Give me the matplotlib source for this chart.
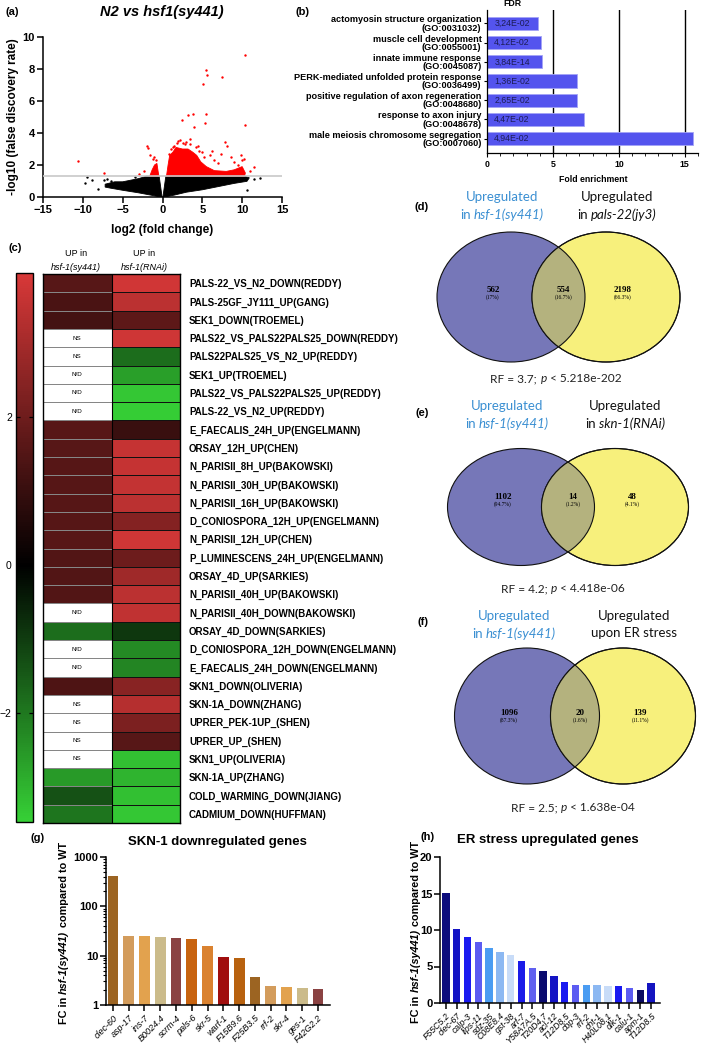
import numpy as np
import matplotlib.pyplot as plt
from matplotlib.colors import LinearSegmentedColormap, Normalize
from matplotlib.cm import ScalarMappable
from matplotlib.patches import Ellipse
from matplotlib.ticker import MultipleLocator

W, H = 709, 1045

# ---------------- data ----------------
# (a) volcano plot: outlines of the dense point clouds, and the separate points
black_left_x = [-7.2, -6.0, -5.0, -4.0, -3.0, -2.0, -0.42, -0.05, -0.5, -1.5, -3.0, -5.0, -6.5, -7.2]
black_left_y = [0.80, 0.95, 0.95, 1.05, 1.15, 1.30, 1.30, 0.0, 0.02, 0.12, 0.26, 0.42, 0.55, 0.62]
black_right_x = [0.05, 0.42, 10.3, 10.9, 10.6, 9.0, 7.0, 5.0, 3.0, 1.5, 0.5]
black_right_y = [0.0, 1.30, 1.30, 1.20, 0.98, 0.85, 0.65, 0.45, 0.30, 0.12, 0.02]
red_main_x = [0.5, 0.7, 0.9, 1.3, 1.7, 2.5, 3.2, 3.8, 4.3, 4.8, 5.5, 6.5, 8.0, 9.0, 10.0, 10.4, 10.3]
red_main_y = [1.3, 2.0, 2.6, 2.8, 3.1, 3.0, 3.0, 2.8, 2.6, 2.2, 1.9, 1.65, 1.6, 1.7, 1.9, 1.5, 1.3]
red_left_x = [-1.6, -1.3, -1.0, -0.7, -0.55, -0.45]
red_left_y = [1.3, 1.7, 2.0, 2.1, 1.6, 1.3]
red_x = [5.4, 5.55, 5.1, 7.5, 3.8, 3.2, 2.4, 5.4, 5.3, 4.0, 10.4, 10.4, 10.2, -10.6, -7.3,
         -2.0, -1.85, -1.6, -1.2, -2.3, -3.0, 1.1, 1.5, 2.0, 2.6, 3.0, 3.5, 4.5, 4.9, 5.2,
         6.0, 6.5, 7.0, 7.8, 8.1, 8.6, 9.0, 9.5, 7.3, 6.2, 4.2, 2.2, 1.8, 1.3, 0.8, -0.8,
         -1.1, 9.8, 10.0, 11.0, 11.5, 3.4, 2.8, 4.6]
red_y = [7.95, 7.6, 7.05, 7.5, 5.2, 5.1, 4.8, 5.2, 4.65, 4.4, 8.9, 4.5, 2.4, 2.25, 1.5,
         3.2, 3.05, 2.6, 2.4, 1.6, 1.45, 3.0, 3.2, 3.5, 3.4, 3.45, 3.3, 3.2, 2.8, 2.5,
         2.6, 2.3, 2.1, 3.45, 3.2, 2.5, 2.2, 2.0, 2.7, 2.9, 3.1, 3.55, 3.4, 3.1, 2.7, 2.3,
         2.5, 2.6, 2.3, 1.6, 1.9, 3.6, 3.3, 2.9]
black_x = [-9.5, -9.7, -8.8, -8.05, -7.4, -7.0, -3.5, 10.6, 12.3, 11.5, -6.5]
black_y = [1.25, 0.9, 1.04, 0.48, 1.04, 1.1, 1.25, 0.45, 1.2, 1.1, 1.0]
fdr_cut = 1.3

# (b) GO enrichment
go_terms = ['actomyosin structure organization', 'muscle cell development', 'innate immune response',
            'PERK-mediated unfolded protein response', 'positive regulation of axon regeneration',
            'response to axon injury', 'male meiosis chromosome segregation']
go_ids = ['GO:0031032', 'GO:0055001', 'GO:0045087', 'GO:0036499', 'GO:0048680', 'GO:0048678', 'GO:0007060']
fold_enrichment = [3.9, 4.08, 4.2, 6.8, 6.85, 7.33, 15.6]
go_fdr = ['3,24E-02', '4,12E-02', '3,84E-14', '1,36E-02', '2,65E-02', '4,47E-02', '4,94E-02']

# (c) heatmap
gene_sets = ['PALS-22_VS_N2_DOWN(REDDY)', 'PALS-25GF_JY111_UP(GANG)', 'SEK1_DOWN(TROEMEL)',
             'PALS22_VS_PALS22PALS25_DOWN(REDDY)', 'PALS22PALS25_VS_N2_UP(REDDY)', 'SEK1_UP(TROEMEL)',
             'PALS22_VS_PALS22PALS25_UP(REDDY)', 'PALS-22_VS_N2_UP(REDDY)', 'E_FAECALIS_24H_UP(ENGELMANN)',
             'ORSAY_12H_UP(CHEN)', 'N_PARISII_8H_UP(BAKOWSKI)', 'N_PARISII_30H_UP(BAKOWSKI)',
             'N_PARISII_16H_UP(BAKOWSKI)', 'D_CONIOSPORA_12H_UP(ENGELMANN)', 'N_PARISII_12H_UP(CHEN)',
             'P_LUMINESCENS_24H_UP(ENGELMANN)', 'ORSAY_4D_UP(SARKIES)', 'N_PARISII_40H_UP(BAKOWSKI)',
             'N_PARISII_40H_DOWN(BAKOWSKI)', 'ORSAY_4D_DOWN(SARKIES)', 'D_CONIOSPORA_12H_DOWN(ENGELMANN)',
             'E_FAECALIS_24H_DOWN(ENGELMANN)', 'SKN1_DOWN(OLIVERIA)', 'SKN-1A_DOWN(ZHANG)',
             'UPRER_PEK-1UP_(SHEN)', 'UPRER_UP_(SHEN)', 'SKN1_UP(OLIVERIA)', 'SKN-1A_UP(ZHANG)',
             'COLD_WARMING_DOWN(JIANG)', 'CADMIUM_DOWN(HUFFMAN)']
nan = np.nan
sy441_nes = [1.6, 1.35, 1.25, nan, nan, nan, nan, nan, 1.6, 1.6, 1.55, 1.55, 1.55, 1.55, 1.6,
             1.5, 1.5, 1.5, nan, -1.8, nan, nan, 1.4, nan, nan, nan, nan, -2.55, -1.35, -1.95]
sy441_note = ['', '', '', 'NS', 'NS', 'N/D', 'N/D', 'N/D', '', '', '', '', '', '', '',
              '', '', '', 'N/D', '', 'N/D', 'N/D', '', 'NS', 'NS', 'NS', 'NS', '', '', '']
rnai_nes = [3.8, 3.4, 1.7, 3.75, -1.8, -2.65, -3.3, -3.4, 1.05, 3.6, 3.6, 3.55, 3.4, 2.4, 3.75,
            2.0, 2.9, 3.4, 3.5, -0.9, -2.3, -2.2, 2.5, 3.3, 2.25, 1.6, -3.2, -3.0, -3.2, -3.3]

# (d)-(f) Venn diagrams
venn_left = ['hsf-1(sy441)', 'hsf-1(sy441)', 'hsf-1(sy441)']
venn_right = [('in ', 'pals-22(jy3)'), ('in ', 'skn-1(RNAi)'), ('upon ER stress', '')]
venn_counts = [(562, 554, 2198), (1102, 14, 48), (1096, 20, 139)]
venn_pcts = [('17%', '16.7%', '66.3%'), ('94.7%', '1.2%', '4.1%'), ('87.3%', '1.6%', '11.1%')]
venn_rf = ['3.7', '4.2', '2.5']
venn_p = ['5.218e-202', '4.418e-06', '1.638e-04']

# (g) SKN-1 downregulated genes
skn_genes = ['clec-60', 'asp-17', 'ins-7', 'B0024.4', 'scrm-4', 'pals-6', 'skr-5', 'warf-1',
             'F15B9.6', 'F25B3.5', 'rrf-2', 'skr-4', 'ges-1', 'F42G2.2']
skn_fc = [420, 25.4, 24.7, 23.5, 23.2, 21.8, 15.7, 9.4, 9.0, 3.75, 2.43, 2.28, 2.21, 2.14]
skn_colors = ['#9c6422', '#d39c5c', '#e2a24e', '#cbbb8a', '#8a4242', '#c8630f', '#da8230', '#a00e0e',
              '#b8620f', '#9c6422', '#d39c5c', '#e2a24e', '#cbbb8a', '#8a4242']

# (h) ER stress upregulated genes
er_genes = ['F55C5.2', 'clec-67', 'calp-3', 'lips-11', 'sdz-35', 'C08E8.4', 'gst-38', 'arf-7',
            'Y58A7A.5', 'T20D4.7', 'acl-12', 'T12D8.5', 'cbp-3', 'rrf-2', 'cht-1', 'H40L08.1',
            'dlk-1', 'calu-1', 'apm-1', 'T12D8.5']
er_fc = [15.1, 10.1, 9.1, 8.3, 7.6, 7.0, 6.6, 5.7, 4.8, 4.4, 3.7, 2.9, 2.5, 2.5, 2.4, 2.35,
         2.3, 2.0, 1.8, 2.8]
er_colors = ['#0c0c7c', '#1414c4', '#1a1af0', '#5c5cf2', '#4a9cf2', '#8cb8f2', '#c8dcf8', '#1a1ae8',
             '#6060f0', '#0a0a6e', '#1414c4', '#1a1af0', '#5c5cf2', '#4a9cf2', '#8cb8f2', '#c8dcf8',
             '#1a1af0', '#5c5cf2', '#0a0a60', '#1414c0']

# ---------------- figure ----------------
plt.rcParams['font.family'] = ['Liberation Sans', 'DejaVu Sans']
plt.rcParams['font.weight'] = 'bold'
plt.rcParams['axes.linewidth'] = 1.1

fig = plt.figure(figsize=(W / 100, H / 100), dpi=100)


def px_axes(left, top, right, bottom):
    return fig.add_axes([left / W, 1 - bottom / H, (right - left) / W, (bottom - top) / H])


def label(x, y, s, **kw):
    kw.setdefault('ha', 'center')
    kw.setdefault('va', 'center')
    return fig.text(x / W, 1 - y / H, s, **kw)


def rich(x, y, parts, size, rotation=0, **kw):
    # parts: (text, style); a leading space becomes a gap
    r = fig.canvas.get_renderer()
    gap = 0.27 * size * 100 / 72
    base = 0.36 * size * 100 / 72
    items = []
    for s, st in parts:
        lead = gap if s.startswith(' ') else 0
        t = fig.text(0, 0, s.strip(), rotation=rotation, rotation_mode='anchor', ha='left',
                     va='baseline', style=st, fontsize=size, **kw)
        bb = t.get_window_extent(r)
        items.append((t, lead, bb.width if rotation == 0 else bb.height))
    pos = -sum(l + w for _, l, w in items) / 2
    for t, lead, w in items:
        pos += lead
        if rotation == 0:
            t.set_position(((x + pos) / W, 1 - (y + base) / H))
        else:
            t.set_position(((x + base) / W, 1 - (y - pos) / H))
        pos += w


# ---- (a) volcano
ax = px_axes(43, 37, 282, 197)
ax.fill(black_left_x, black_left_y, color='black', lw=0.6)
ax.fill(black_right_x, black_right_y, color='black', lw=0.6)
ax.fill(red_main_x, red_main_y, color='#ff0000', lw=0.6)
ax.fill(red_left_x, red_left_y, color='#ff0000', lw=0.6)
ax.scatter(black_x, black_y, s=3, c='black', lw=0)
ax.scatter(red_x, red_y, s=3, c='#ff0000', lw=0)
ax.axhline(fdr_cut, color='#c8c8c8', lw=1.2, zorder=3)
ax.set_xlim(-15, 15)
ax.set_ylim(0, 10)
ax.set_xticks(range(-15, 16, 5))
ax.set_yticks(range(0, 11, 2))
ax.spines[['top', 'right']].set_visible(False)
ax.tick_params(labelsize=8, width=1.1, length=4, pad=2)
label(12, 12, '(a)', fontsize=8)
label(162, 12, 'N2 vs hsf1(sy441)', fontsize=10.5, style='italic')
label(13, 117, '-log10 (false discovery rate)', fontsize=8.5, rotation=90)
label(162, 230, 'log2 (fold change)', fontsize=8.5)

# ---- (b) GO bars
ax = px_axes(487, 10, 698, 153)
ypos = np.arange(len(go_terms))
for v in (5, 10, 15):
    ax.axvline(v, color='black', lw=1.0, zorder=1)
ax.barh(ypos, fold_enrichment, height=0.68, color='#5454ee', edgecolor='#a4a4f6', lw=0.6, zorder=2)
for i, f in enumerate(go_fdr):
    ax.text(1.9, i, f, ha='center', va='center', fontsize=6.3, fontweight='normal', color='#1c1c55', zorder=3)
ax.set_xlim(0, 16.0)
ax.set_ylim(6.75, -0.7)
ax.set_yticks(ypos)
ax.set_yticklabels([f'{t}\n({g})' for t, g in zip(go_terms, go_ids)], fontsize=6.6, linespacing=0.88)
ax.set_xticks([0, 5, 10, 15])
ax.xaxis.set_minor_locator(MultipleLocator(1))
ax.spines[['top', 'right']].set_visible(False)
ax.spines[['left', 'bottom']].set_linewidth(0.9)
ax.tick_params(axis='y', length=2.5, width=0.8, pad=1.5)
ax.tick_params(axis='x', labelsize=6.3, length=3, width=0.8, pad=2)
ax.tick_params(axis='x', which='minor', length=1.8, width=0.6)
label(303, 12, '(b)', fontsize=8)
label(512, 4, 'FDR', fontsize=6.3)
label(593, 179, 'Fold enrichment', fontsize=6.3)

# ---- (c) heatmap
cmap = LinearSegmentedColormap.from_list('gkr', [(0, '#36d036'), (3.47 / 7.42, '#000000'), (1, '#d83838')])
norm = Normalize(-3.47, 3.95)
n = len(gene_sets)
ax = px_axes(43, 274, 180, 823)
ax.hlines(np.arange(n + 1), 0, 1, color='#8a8a8a', lw=0.7)
vals = np.ma.masked_invalid(np.array([sy441_nes, rnai_nes], dtype=float).T)
ax.pcolormesh(vals, cmap=cmap, norm=norm, edgecolors='#111111', linewidth=0.6)
for i, note in enumerate(sy441_note):
    if note:
        ax.text(0.5, i + 0.5, note, ha='center', va='center', fontsize=4.5, fontweight='normal')
ax.axvline(1, color='black', lw=0.8)
ax.set_xlim(0, 2)
ax.set_ylim(n, 0)
ax.set_xticks([])
ax.yaxis.tick_right()
ax.set_yticks(np.arange(n) + 0.5)
ax.set_yticklabels(gene_sets, fontsize=7)
ax.tick_params(axis='y', length=0, pad=6.5)
for s in ax.spines.values():
    s.set_linewidth(1.0)
label(15, 248, '(c)', fontsize=8)
label(76, 253, 'UP in', fontsize=6.5, fontweight='normal')
label(76, 267, 'hsf-1(sy441)', fontsize=6.5, fontweight='normal', style='italic')
label(144, 253, 'UP in', fontsize=6.5, fontweight='normal')
label(144, 267, 'hsf-1(RNAi)', fontsize=6.5, fontweight='normal', style='italic')

cax = px_axes(16, 273, 33, 822)
cb = fig.colorbar(ScalarMappable(norm=norm, cmap=cmap), cax=cax)
cb.set_ticks([-2, 0, 2])
cb.outline.set_linewidth(1.0)
cax.tick_params(direction='in', left=True, right=True, labelleft=True, labelright=False,
                length=3, width=0.9, labelsize=7.5, pad=3)
for t in cax.get_yticklabels():
    t.set_fontweight('normal')

# ---- (d)-(f) Venn diagrams
vax = px_axes(355, 180, 709, 830)
vax.set_xlim(355, 709)
vax.set_ylim(830, 180)
vax.axis('off')
venn_geom = [(511, 606, 297, 148, 130), (521, 615, 507, 147, 117), (527, 623, 716, 145, 136)]
venn_num_y = [290, 497, 713]
venn_title_y = [197, 406, 616]
venn_title_x = [(502, 617), (507, 625), (514, 634)]
venn_rf_pos = [(556, 378), (563, 588), (573, 807)]
venn_tag = [('(d)', 422, 207), ('(e)', 422, 413), ('(f)', 423, 622)]
lato = ['Lato', 'DejaVu Sans']
serif = ['Liberation Serif', 'DejaVu Serif']
for k in range(3):
    cl, cr, cy, w, h = venn_geom[k]
    left = Ellipse((cl, cy), w, h, facecolor='#7677b8', edgecolor='#111111', lw=0.8)
    right = Ellipse((cr, cy), w, h, facecolor='#f7f07c', edgecolor='#111111', lw=0.8)
    vax.add_patch(left)
    vax.add_patch(right)
    mid = Ellipse((cl, cy), w, h, facecolor='#b4b27e', edgecolor='#111111', lw=0.8)
    vax.add_patch(mid)
    mid.set_clip_path(right)
    vax.add_patch(Ellipse((cr, cy), w, h, fill=False, edgecolor='#111111', lw=0.8))
    xs = [cl - 18, (cl + cr) / 2 + 5, cr + 17]
    for xx, c, p in zip(xs, venn_counts[k], venn_pcts[k]):
        vax.text(xx, venn_num_y[k], str(c), ha='center', va='center', fontsize=6.5, family=serif)
        vax.text(xx, venn_num_y[k] + 7, f'({p})', ha='center', va='center', fontsize=4,
                 fontweight='normal', family=serif)
    tl, tr = venn_title_x[k]
    ty = venn_title_y[k]
    label(tl, ty, 'Upregulated', fontsize=9.5, fontweight='normal', family=lato, color='#3a8fd2')
    rich(tl, ty + 17, [('in', 'normal'), (' ' + venn_left[k], 'italic')], 9.5,
         fontweight='normal', family=lato, color='#3a8fd2')
    label(tr, ty, 'Upregulated', fontsize=9.5, fontweight='normal', family=lato, color='#111111')
    a, b = venn_right[k]
    if b:
        rich(tr, ty + 17, [(a, 'normal'), (' ' + b, 'italic')], 9.5, fontweight='normal',
             family=lato, color='#111111')
    else:
        label(tr, ty + 17, a, fontsize=9.5, fontweight='normal', family=lato, color='#111111')
    rx, ry = venn_rf_pos[k]
    rich(rx, ry, [(f'RF = {venn_rf[k]};', 'normal'), (' p', 'italic'), (' < ' + venn_p[k], 'normal')],
         8.6, fontweight='normal', family=lato, color='#222222')
    tag, tx, tyy = venn_tag[k]
    label(tx, tyy, tag, fontsize=8)

# ---- (g) SKN-1 downregulated genes
ax = px_axes(106, 857, 330, 1005)
xg = np.arange(len(skn_genes))
ax.bar(xg, skn_fc, width=0.68, color=skn_colors)
ax.set_yscale('log')
ax.set_ylim(1, 1000)
ax.set_xlim(-0.44, len(skn_genes) - 0.24)
ax.set_yticks([1, 10, 100, 1000])
ax.set_yticklabels(['1', '10', '100', '1000'])
ax.set_xticks(xg)
ax.set_xticklabels(skn_genes, rotation=45, ha='right', rotation_mode='anchor', fontsize=6.5,
                   style='italic', fontweight='normal')
ax.spines[['top', 'right']].set_visible(False)
ax.tick_params(axis='y', labelsize=8, length=4, width=1.1, pad=1.5)
ax.tick_params(axis='y', which='minor', length=2.2, width=0.8)
ax.tick_params(axis='x', length=4, width=1.1, pad=2)
label(38, 838, '(g)', fontsize=8)
label(217, 842, 'SKN-1 downregulated genes', fontsize=9.5)
rich(63, 933, [('FC in', 'normal'), (' hsf-1(sy441)', 'italic'), (' compared to WT', 'normal')], 7.8,
     rotation=90)

# ---- (h) ER stress upregulated genes
ax = px_axes(440, 857, 660, 1003)
xh = np.arange(len(er_genes))
ax.bar(xh, er_fc, width=0.68, color=er_colors)
ax.set_ylim(0, 20)
ax.set_xlim(-0.55, len(er_genes) - 0.17)
ax.set_yticks(range(0, 21, 5))
ax.set_xticks(xh)
ax.set_xticklabels(er_genes, rotation=45, ha='right', rotation_mode='anchor', fontsize=6.3,
                   style='italic', fontweight='normal')
ax.spines[['top', 'right']].set_visible(False)
ax.tick_params(axis='y', labelsize=8, length=4, width=1.1, pad=1.5)
ax.tick_params(axis='x', length=4, width=1.1, pad=2)
label(428, 837, '(h)', fontsize=8)
label(548, 840, 'ER stress upregulated genes', fontsize=9.5)
rich(415, 932, [('FC in', 'normal'), (' hsf-1(sy441)', 'italic'), (' compared to WT', 'normal')], 7.8,
     rotation=90)

fig.savefig('out.png', dpi=100)
